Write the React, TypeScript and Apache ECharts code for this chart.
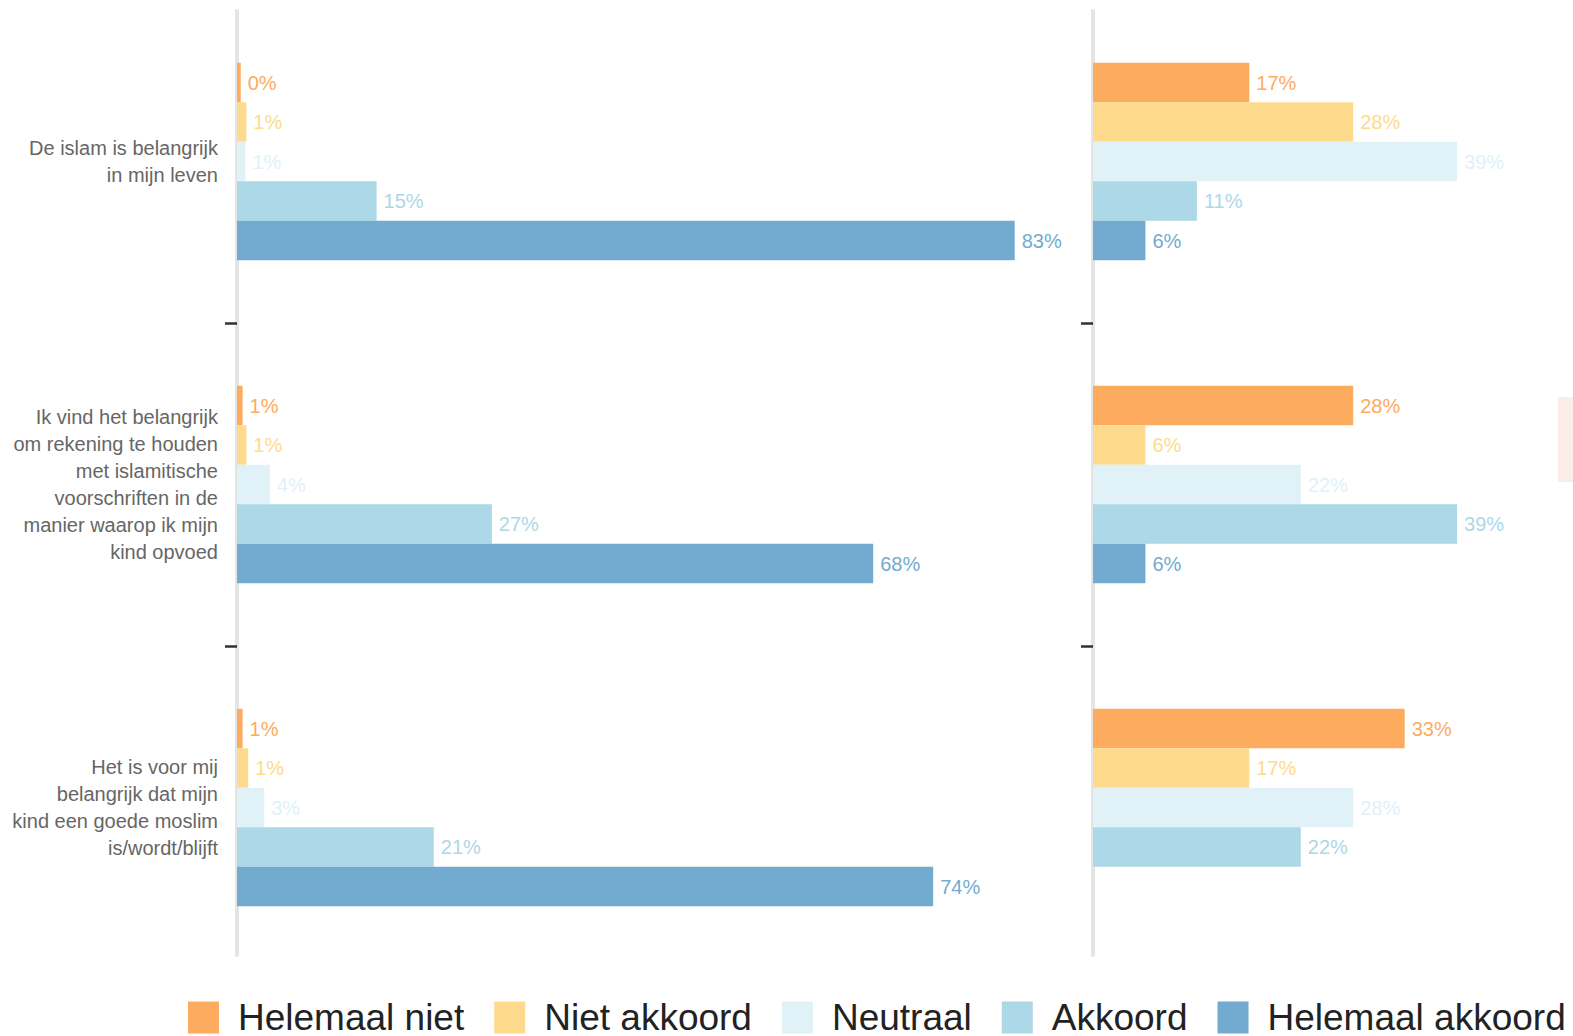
import React, { useEffect, useRef } from "react";
import * as echarts from "echarts";

const categories = [
  "De islam is belangrijk\nin mijn leven",
  "Ik vind het belangrijk\nom rekening te houden\nmet islamitische\nvoorschriften in de\nmanier waarop ik mijn\nkind opvoed",
  "Het is voor mij\nbelangrijk dat mijn\nkind een goede moslim\nis/wordt/blijft",
];

const seriesNames = ["Helemaal niet", "Niet akkoord", "Neutraal", "Akkoord", "Helemaal akkoord"];
const seriesColors = ["#fdab5f", "#fedb8c", "#e0f2f8", "#acd8e7", "#73abd0"];

// Left panel values (%)
const leftHelemaalNiet = [0.4, 0.6, 0.6];
const leftNietAkkoord = [1.0, 1.0, 1.2];
const leftNeutraal = [0.9, 3.5, 2.9];
const leftAkkoord = [14.9, 27.2, 21.0];
const leftHelemaalAkkoord = [83.0, 67.9, 74.3];

// Right panel values (%)
const rightHelemaalNiet = [16.7, 27.8, 33.3];
const rightNietAkkoord = [27.8, 5.6, 16.7];
const rightNeutraal = [38.9, 22.2, 27.8];
const rightAkkoord = [11.1, 38.9, 22.2];
const rightHelemaalAkkoord: (number | string)[] = [5.6, 5.6, "-"];

const leftData = [leftHelemaalNiet, leftNietAkkoord, leftNeutraal, leftAkkoord, leftHelemaalAkkoord];
const rightData = [rightHelemaalNiet, rightNietAkkoord, rightNeutraal, rightAkkoord, rightHelemaalAkkoord];

const tickSlots = ["", "", "", ""];

export default function App() {
  const ref = useRef<HTMLDivElement>(null);

  useEffect(() => {
    if (!ref.current) return;
    const chart = echarts.init(ref.current, undefined, { renderer: "svg" });

    const makeSeries = (data: any[][], gridIdx: number) =>
      data.map((vals, i) => ({
        name: seriesNames[i],
        type: "bar",
        xAxisIndex: gridIdx,
        yAxisIndex: gridIdx,
        data: vals,
        barWidth: 39.5,
        barGap: "0%",
        itemStyle: { color: seriesColors[i] },
        label: {
          show: true,
          position: "right",
          distance: 7,
          color: seriesColors[i],
          fontSize: 20,
          fontFamily: "Liberation Sans, Arial, sans-serif",
          formatter: (p: any) => Math.round(p.value) + "%",
        },
      }));

    const tickAxis = (gridIndex: number) => ({
      type: "category",
      gridIndex,
      position: "left",
      data: tickSlots,
      boundaryGap: false,
      axisLine: { show: false },
      axisLabel: { show: false },
      splitLine: { show: false },
      axisTick: {
        show: true,
        length: 12,
        interval: (i: number) => i === 1 || i === 2,
        lineStyle: { color: "#333333", width: 2.5 },
      },
    });

    const lineAxis = (gridIndex: number) => ({
      type: "value",
      gridIndex,
      min: 0,
      max: 1,
      position: "left",
      axisLine: { show: true, onZero: false, lineStyle: { color: "#e4e4e4", width: 4 } },
      axisTick: { show: false },
      axisLabel: { show: false },
      splitLine: { show: false },
    });

    const option: any = {
      animation: false,
      grid: [
        { left: 237, top: -3, width: 937, height: 972 },
        { left: 1093, top: -3, width: 468, height: 972 },
        { left: 237, top: 11, width: 10, height: 944 },
        { left: 1093, top: 11, width: 10, height: 944 },
      ],
      xAxis: [
        { type: "value", gridIndex: 0, min: 0, max: 100, show: false },
        { type: "value", gridIndex: 1, min: 0, max: 50, show: false },
        { type: "value", gridIndex: 2, min: 0, max: 1, show: false },
        { type: "value", gridIndex: 3, min: 0, max: 1, show: false },
      ],
      yAxis: [
        {
          type: "category",
          gridIndex: 0,
          data: categories,
          inverse: true,
          axisLine: { show: false },
          axisTick: { show: false },
          axisLabel: {
            show: true,
            margin: 19,
            fontSize: 20,
            lineHeight: 27,
            color: "#666666",
            fontFamily: "Liberation Sans, Arial, sans-serif",
            align: "right",
          },
        },
        {
          type: "category",
          gridIndex: 1,
          data: categories,
          inverse: true,
          axisLine: { show: false },
          axisTick: { show: false },
          axisLabel: { show: false },
        },
        lineAxis(2),
        lineAxis(3),
        tickAxis(0),
        tickAxis(1),
      ],
      legend: {
        data: seriesNames,
        left: 188,
        top: 999,
        padding: 0,
        width: 1500,
        orient: "horizontal",
        itemWidth: 31,
        itemHeight: 32,
        itemGap: 30,
        icon: "rect",
        textStyle: {
          fontSize: 37,
          lineHeight: 34,
          color: "#222222",
          fontFamily: "Liberation Sans, Arial, sans-serif",
          padding: [0, 0, 0, 14],
        },
      },
      graphic: [
        {
          type: "rect",
          left: 1558,
          top: 397,
          shape: { width: 20, height: 85 },
          style: { fill: "#fbece8" },
          silent: true,
        },
      ],
      series: [...makeSeries(leftData, 0), ...makeSeries(rightData, 1)],
    };

    chart.setOption(option);
    return () => chart.dispose();
  }, []);

  return (
    <div
      ref={ref}
      style={{ position: "absolute", left: 0, top: 0, width: 1573, height: 1036, background: "#ffffff" }}
    />
  );
}
